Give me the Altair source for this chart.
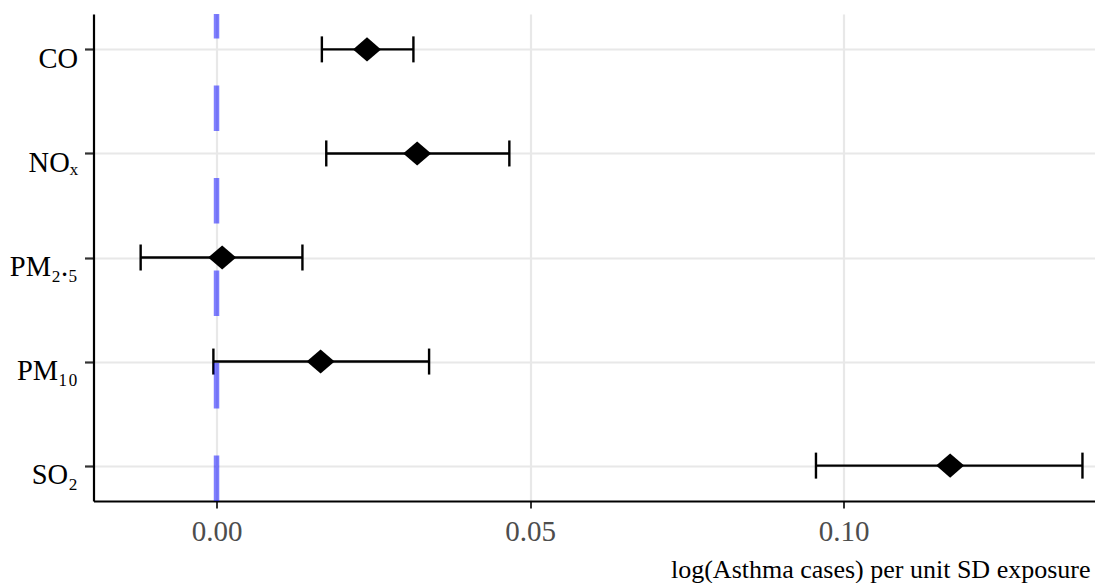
import altair as alt
import pandas as pd

# ---- data ----
pollutants = ["CO", "NOₓ", "PM₂.₅", "PM₁₀", "SO₂"]
estimate = [0.0240, 0.0320, 0.0009, 0.0166, 0.1170]
lower = [0.0168, 0.0175, -0.0121, -0.0005, 0.0956]
upper = [0.0314, 0.0467, 0.0137, 0.0339, 0.1381]
ref_value = [0.0]
x_ticks = [0.0, 0.05, 0.10]
x_title = "log(Asthma cases) per unit SD exposure"

df = pd.DataFrame({"pollutant": pollutants, "estimate": estimate,
                   "lower": lower, "upper": upper})
ref_df = pd.DataFrame({"ref": ref_value})

W, H = 1001.5, 487
SERIF = "Liberation Serif"

xscale = alt.Scale(domain=[-0.01962, 0.1401], nice=False, zero=False)
yscale = alt.Scale(type="point", padding=0.34)

x_axis = alt.Axis(values=x_ticks, format=".2f", grid=True, gridColor="#e8e8e8",
                  gridWidth=2.2, domainColor="black", domainWidth=2.2,
                  tickColor="#333333", tickWidth=2, tickSize=7,
                  labelFont=SERIF, labelFontSize=29, labelColor="#4d4d4d",
                  labelPadding=9, labelFlush=False,
                  title=x_title, titleFont=SERIF, titleFontSize=26,
                  titleFontWeight="normal", titleColor="black",
                  titleAlign="right", titleX=996.5, titleY=76,
                  titleBaseline="alphabetic")

y_axis = alt.Axis(title=None, grid=True, gridColor="#e8e8e8", gridWidth=2.2,
                  domainColor="black", domainWidth=2.2,
                  tickColor="#333333", tickWidth=2.2, tickSize=9,
                  labelFont=SERIF, labelFontSize=28.5, labelColor="black",
                  labelPadding=7, labelBaseline="middle", labelOffset=9,
                  labelLimit=0)

Y = alt.Y("pollutant:N", sort=pollutants, scale=yscale, axis=y_axis)

base = alt.Chart(df)

bars = base.mark_rule(color="black", strokeWidth=2.4).encode(
    x=alt.X("lower:Q", scale=xscale, axis=x_axis, title=x_title),
    x2="upper:Q",
    y=Y,
)
cap_lo = base.mark_tick(color="black", thickness=2.4, size=26, opacity=1).encode(
    x=alt.X("lower:Q", scale=xscale, title=x_title),
    y=Y,
)
cap_hi = base.mark_tick(color="black", thickness=2.4, size=26, opacity=1).encode(
    x=alt.X("upper:Q", scale=xscale, title=x_title),
    y=Y,
)
points = base.mark_point(shape="M-1,0L0,-0.86L1,0L0,0.86Z", filled=True,
                         size=784, color="black", opacity=1).encode(
    x=alt.X("estimate:Q", scale=xscale, title=x_title),
    y=Y,
)
vline = alt.Chart(ref_df).mark_rule(color="#0000ff", opacity=0.5,
                                     strokeWidth=5.5,
                                     strokeDash=[45.5, 47]).encode(
    x=alt.X("ref:Q", scale=xscale, title=x_title),
    y=alt.value(H),
    y2=alt.value(0),
)

chart = alt.layer(bars, cap_lo, cap_hi, points, vline).properties(
    width=W, height=H,
    autosize=alt.AutoSizeParams(type="none"),
    padding={"left": 85.5, "top": 6, "right": 0, "bottom": 82},
    background="white",
).configure_view(stroke=None)

chart.save("out.html", embed_options={"renderer": "svg", "actions": False})
